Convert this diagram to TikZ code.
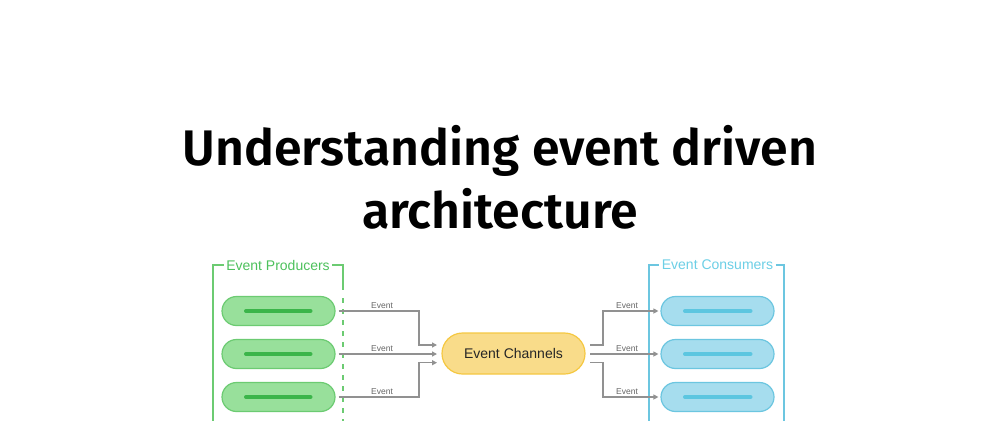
\documentclass[tikz,border=0pt]{standalone}
\usepackage{fontspec}
\setmainfont{Liberation Sans}
\newfontfamily\titlefont{Fira Sans SemiBold}
\usetikzlibrary{arrows.meta}
\definecolor{gfill}{HTML}{98E09B}
\definecolor{gdraw}{HTML}{6CCB72}
\definecolor{gbar}{HTML}{3BB54A}
\definecolor{gtext}{HTML}{4DC15C}
\definecolor{bfill}{HTML}{A6DDEE}
\definecolor{bdraw}{HTML}{6CC6E0}
\definecolor{bbar}{HTML}{5CC6E0}
\definecolor{btext}{HTML}{6CCFE6}
\definecolor{yfill}{HTML}{F9DC8A}
\definecolor{ydraw}{HTML}{F5C842}
\definecolor{lgray}{HTML}{919191}
\begin{document}
\begin{tikzpicture}[x=1pt,y=-1pt,
  pill/.style={rounded corners=14.5pt, line width=1.2pt, minimum width=113pt, minimum height=29pt, inner sep=0pt},
  gpill/.style={pill, draw=gdraw, fill=gfill},
  bpill/.style={pill, draw=bdraw, fill=bfill},
  bar/.style={line width=4pt, line cap=round},
  flow/.style={draw=lgray, line width=1.2pt, -{Triangle[length=5pt,width=5pt]}},
  evlbl/.style={font=\fontsize{8.5}{9}\selectfont, text=black!60, inner sep=1pt, anchor=south},
  grp/.style={line width=1.2pt},
  grplbl/.style={font=\fontsize{14}{16}\selectfont, inner sep=2.5pt}
]
\useasboundingbox (0,0) rectangle (1000,420);
\fill[white] (0,0) rectangle (1000,420);
% title
\node[font=\titlefont\fontsize{50}{60}\selectfont, anchor=base] (t1) at (500,165) {Understanding event driven};
\node[font=\titlefont\fontsize{50}{60}\selectfont, anchor=base] (t2) at (500,228) {architecture};
% producers group
\node[grplbl, text=gtext] (gp) at (278,265) {Event Producers};
\draw[grp, gdraw] (213,430) -- (213,265) -- (gp.west);
\draw[grp, gdraw] (gp.east) -- (343,265) -- (343,290);
\draw[grp, gdraw, dash pattern=on 5pt off 6pt] (343,298) -- (343,430);
% consumers group
\node[grplbl, text=btext] (gc) at (717.5,265) {Event Consumers};
\draw[grp, bdraw] (649,430) -- (649,265) -- (gc.west);
\draw[grp, bdraw] (gc.east) -- (784,265) -- (784,430);
% pills
\foreach \i/\y in {1/311,2/354,3/397}{
  \node[gpill] (p\i) at (278.5,\y) {};
  \draw[bar, gbar] (246,\y) -- (310.5,\y);
  \node[bpill] (c\i) at (717.5,\y) {};
  \draw[bar, bbar] (685,\y) -- (750.5,\y);
}
% channel
\node[rounded corners=20.5pt, line width=1.2pt, draw=ydraw, fill=yfill, minimum width=143pt, minimum height=41pt, inner sep=0pt, font=\fontsize{14}{16}\selectfont, text=black!85] (ch) at (513.5,353.5) {Event Channels};
\coordinate (ci1) at (437,345);
\coordinate (ci2) at (437,354);
\coordinate (ci3) at (437,362.7);
\coordinate (co1) at (590,345);
\coordinate (co2) at (590,354);
\coordinate (co3) at (590,362.7);
% producer arrows
\draw[flow] ([xshift=3pt]p1.east) -- (419,311) |- (ci1);
\draw[flow] ([xshift=3pt]p2.east) -- (ci2);
\draw[flow] ([xshift=3pt]p3.east) -- (419,397) |- (ci3);
\node[evlbl] (e1) at (382,310) {Event};
\node[evlbl] (e2) at (382,353) {Event};
\node[evlbl] (e3) at (382,396) {Event};
% consumer arrows
\draw[flow] (co1) -- (603,345) |- ([xshift=-2pt]c1.west);
\draw[flow] (co2) -- ([xshift=-2pt]c2.west);
\draw[flow] (co3) -- (603,362.7) |- ([xshift=-2pt]c3.west);
\node[evlbl] (f1) at (627,310) {Event};
\node[evlbl] (f2) at (627,353) {Event};
\node[evlbl] (f3) at (627,396) {Event};
\end{tikzpicture}
\end{document}
